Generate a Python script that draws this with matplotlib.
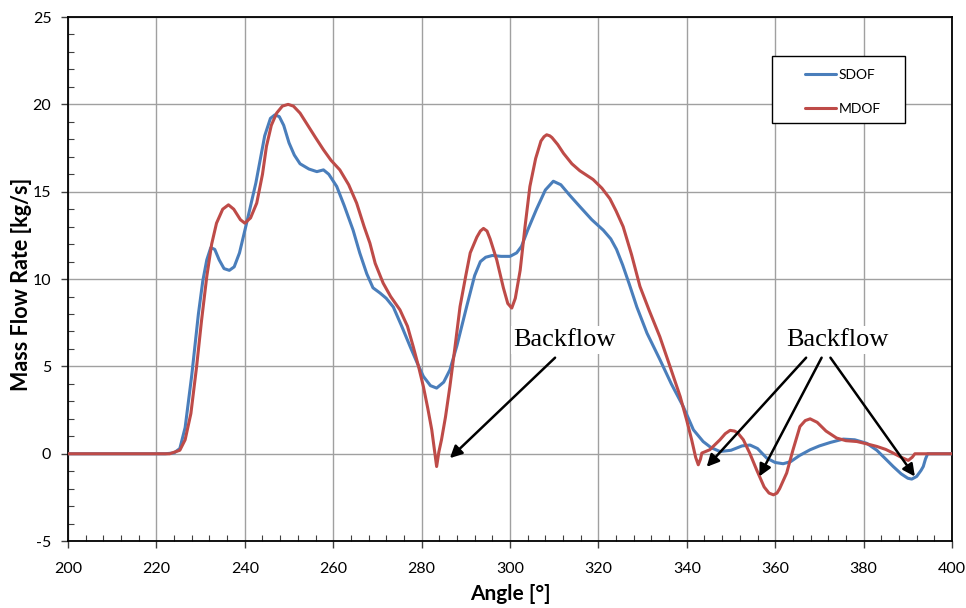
import matplotlib
matplotlib.use('Agg')
import matplotlib.pyplot as plt
from matplotlib.patches import Rectangle
from matplotlib.ticker import MultipleLocator

# SDOF curve
sdof_angle = [200, 222, 224, 225.3, 226.5, 228, 229.5, 230.5, 231.4, 232.3, 233.2, 234.2, 235.3, 236.5,
              237.6, 238.8, 240.4, 242.5, 244.5, 245.8, 246.8, 247.8, 248.8, 250, 251.2, 252.5, 254.5,
              256.3, 257.8, 259, 260.8, 262.5, 264.5, 266, 267.6, 269, 270.6, 272, 273.6, 275.5, 277.4,
              279, 280.4, 282, 283.4, 285, 286.4, 288, 290.2, 292, 293.3, 294.5, 296, 298, 300, 301.5,
              302.6, 304, 306, 308, 309.8, 311.5, 313.5, 315.8, 318.5, 321.1, 322.8, 324.1, 325.5, 327,
              328.7, 331, 333.9, 336.5, 339.2, 341.5, 343.7, 345.5, 347.5, 350, 352.5, 354.3, 356, 358.1,
              360, 361.8, 363.5, 365.5, 367.9, 370, 372.5, 375.4, 378, 380.7, 383, 385, 386.7, 388.5, 390,
              390.9, 392, 393, 393.5, 394, 394.5, 396, 400]
sdof_flow = [0, 0, 0.05, 0.3, 1.5, 4.5, 8, 9.9, 11.1, 11.8, 11.7, 11.1, 10.6, 10.5,
             10.7, 11.5, 13.2, 15.5, 18.2, 19.2, 19.4, 19.3, 18.8, 17.8, 17.1, 16.6, 16.3,
             16.15, 16.25, 16.0, 15.3, 14.2, 12.8, 11.5, 10.3, 9.5, 9.2, 8.9, 8.4, 7.3, 6.14,
             5.2, 4.43, 3.9, 3.76, 4.1, 4.8, 6.2, 8.43, 10.2, 11.0, 11.25, 11.35, 11.3, 11.3, 11.5,
             11.87, 12.8, 14.0, 15.1, 15.6, 15.4, 14.8, 14.15, 13.4, 12.8, 12.3, 11.7, 10.8, 9.7,
             8.4, 6.9, 5.4, 4.0, 2.7, 1.37, 0.7, 0.35, 0.13, 0.2, 0.45, 0.5, 0.3, -0.25,
             -0.5, -0.57, -0.45, -0.1, 0.23, 0.45, 0.65, 0.84, 0.8, 0.6, 0.2, -0.3, -0.73, -1.15, -1.4,
             -1.45, -1.3, -0.95, -0.73, -0.3, 0, 0, 0]

# MDOF curve
mdof_angle = [200, 223, 225.3, 226.5, 227.8, 229.1, 230.2, 231.4, 232.5, 233.6, 235, 236.3, 237.5,
              239, 240, 241.3, 242.7, 244, 244.9, 246, 247.2, 248.5, 249.8, 251, 252.5, 254, 256,
              257.8, 259.5, 261.5, 263.5, 265.3, 267, 268.3, 269.5, 271.3, 273, 275.1, 276.8, 278.1,
              279.3, 280.4, 281.4, 282.3, 282.9, 283.4, 283.9, 284.5, 285.4, 286.4, 287.5, 288.7,
              290, 291, 292.5, 293.3, 294, 294.8, 295.5, 297, 298.5, 299.5, 300.4, 301.2, 302.3, 303.4,
              304.5, 305.8, 307, 307.7, 308.3, 309, 309.5, 310.8, 312.1, 314, 315.8, 317.3, 318.8, 320.8,
              322.6, 324, 325.6, 327.5, 329.4, 331.5, 333.9, 336.2, 338.5, 340, 341.1, 342, 342.6, 343.1,
              343.4, 345.2, 347.5, 348.7, 349.8, 350.8, 351.5, 352.8, 354.3, 355.8, 357.5, 358.6, 359.6,
              360.4, 361, 362.6, 364, 365.6, 366.8, 367.9, 369.5, 371.5, 373.9, 376, 378.5, 381, 383,
              385, 386.7, 388.5, 390.1, 391, 391.6, 400]
mdof_flow = [0, 0, 0.2, 0.8, 2.3, 5, 7.6, 10.15, 12.0, 13.2, 14.0, 14.25, 14.0,
             13.4, 13.2, 13.5, 14.35, 16.0, 17.6, 18.8, 19.5, 19.9, 20.0, 19.9, 19.5, 18.9, 18.1,
             17.4, 16.8, 16.25, 15.4, 14.35, 13.0, 12.06, 10.9, 9.77, 9.0, 8.24, 7.3, 6.14,
             5.0, 3.85, 2.6, 1.37, 0.2, -0.73, 0.1, 0.8, 2.1, 3.85, 6.0, 8.43,
             10.2, 11.5, 12.4, 12.75, 12.9, 12.75, 12.3, 11.1, 9.5, 8.6, 8.34, 8.9, 10.5, 13.0,
             15.3, 16.9, 17.9, 18.15, 18.26, 18.2, 18.1, 17.7, 17.2, 16.6, 16.2, 15.95, 15.7, 15.2,
             14.6, 13.9, 13.0, 11.4, 9.58, 8.2, 6.7, 5.0, 3.28, 1.9, 0.8, -0.2, -0.63, -0.3,
             0.04, 0.23, 0.8, 1.15, 1.34, 1.3, 1.2, 0.8, 0.0, -0.92, -1.9, -2.25, -2.35,
             -2.25, -2.0, -1.1, 0.2, 1.56, 1.9, 2.0, 1.8, 1.3, 0.9, 0.75, 0.7, 0.55, 0.42,
             0.25, 0.04, -0.2, -0.38, -0.2, 0, 0]

# "Backflow" labels and the points their arrows mark (angle, flow)
backflow_text = [(312.4, 6.5), (374.0, 6.5)]
arrow_tails = [[(310.2, 5.5)], [(367.0, 5.5), (370.5, 5.5), (372.5, 5.5)]]
arrow_heads = [[(286.4, -0.25)], [(344.5, -0.75), (356.4, -1.3), (391.6, -1.3)]]

plt.rcParams['font.family'] = ['Lato', 'DejaVu Sans']
plt.rcParams['axes.unicode_minus'] = False

fig = plt.figure(figsize=(9.66, 6.08), dpi=100)
ax = fig.add_axes([0.0704, 0.110, 0.9151, 0.862])

ax.plot(sdof_angle, sdof_flow, color='#4a7ebb', lw=2.2, label='SDOF', zorder=3,
        solid_joinstyle='round', solid_capstyle='round')
ax.plot(mdof_angle, mdof_flow, color='#be4b48', lw=2.2, label='MDOF', zorder=3,
        solid_joinstyle='round', solid_capstyle='round')

ax.set_xlim(200, 400)
ax.set_ylim(-5, 25)
ax.xaxis.set_major_locator(MultipleLocator(20))
ax.xaxis.set_minor_locator(MultipleLocator(4))
ax.yaxis.set_major_locator(MultipleLocator(5))
ax.yaxis.set_minor_locator(MultipleLocator(1))
ax.tick_params(which='major', direction='out', length=5, width=1, colors='#404040',
               labelsize=11.5, labelcolor='black')
ax.tick_params(axis='x', which='major', pad=10)
ax.tick_params(axis='y', which='major', pad=7)
ax.tick_params(which='minor', direction='in', length=4, width=0.8, colors='#404040')
ax.grid(which='major', color='#a0a0a0', lw=1.0, zorder=0)
for s in ax.spines.values():
    s.set_color('black')
    s.set_linewidth(1.3)

ax.set_xlabel('Angle [°]', fontsize=15, fontweight='bold', labelpad=6)
ax.set_ylabel('Mass Flow Rate [kg/s]', fontsize=15.5, fontweight='bold')
ax.yaxis.set_label_coords(-0.041, 0.49)

for (tx, ty), tails, heads in zip(backflow_text, arrow_tails, arrow_heads):
    ax.text(tx, ty, 'Backflow', fontsize=19, family='Liberation Serif', ha='center', va='center',
            bbox=dict(facecolor='white', edgecolor='none', pad=2), zorder=4)
    for t, h in zip(tails, heads):
        ax.annotate('', xy=h, xytext=t, zorder=5,
                    arrowprops=dict(arrowstyle='-|>', color='black', lw=1.8, mutation_scale=18,
                                    shrinkA=0, shrinkB=0))

# legend in an Excel-style box
ax.add_patch(Rectangle((0.796, 0.797), 0.151, 0.128, transform=ax.transAxes, facecolor='white',
                       edgecolor='black', lw=1.0, zorder=6))
leg = ax.legend(loc='upper left', bbox_to_anchor=(0.826, 0.915), frameon=False, fontsize=10,
                handlelength=2.2, handletextpad=0.2, labelspacing=1.6, borderpad=0)
leg.set_zorder(7)

plt.savefig('out.png', dpi=100)
